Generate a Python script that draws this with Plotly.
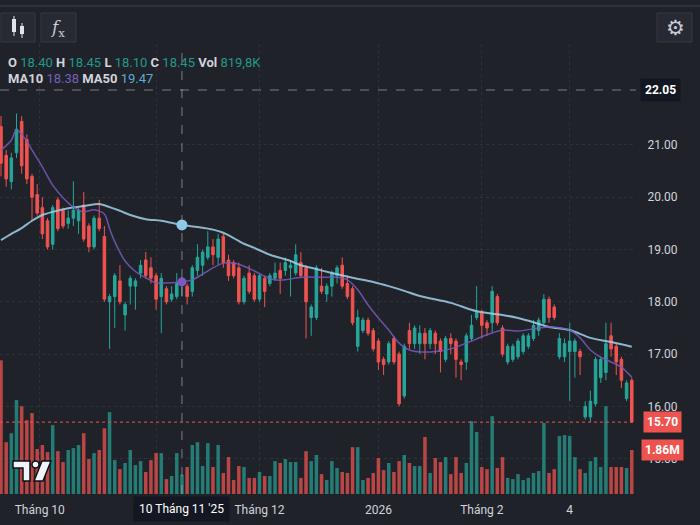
import plotly.graph_objects as go

# ---------------- data ----------------
OPEN = [21.35, 20.80, 20.30, 20.85, 21.45, 21.10, 20.40, 20.05, 19.80, 19.55,
        19.10, 19.95, 19.75, 19.50, 19.60, 19.55, 19.85, 19.45, 19.05, 19.60,
        19.25, 18.00, 18.10, 18.40, 17.75, 18.30, 18.30, 18.55, 18.80, 18.65,
        18.50, 18.10, 18.25, 18.05, 18.10, 18.40, 18.30, 18.20, 18.60, 18.70,
        18.85, 19.05, 18.85, 19.25, 18.80, 18.75, 18.65, 18.00, 18.55, 18.50,
        18.05, 18.45, 18.35, 18.45, 18.60, 18.60, 18.65, 18.55, 18.75, 18.65,
        17.70, 17.70, 18.30, 18.15, 18.30, 18.50, 18.70, 18.35, 18.25, 17.15,
        17.45, 17.65, 17.45, 17.25, 16.90, 16.85, 17.30, 17.00, 16.20, 17.45,
        17.20, 17.20, 17.40, 17.20, 17.40, 17.25, 16.90, 17.30, 17.25, 16.85,
        16.85, 17.30, 17.70, 17.80, 17.60, 17.60, 18.10, 17.50, 16.85, 16.90,
        16.95, 17.05, 17.15, 17.30, 17.45, 17.60, 18.05, 17.90, 16.95, 16.95,
        17.05, 17.05, 17.05, 15.80, 15.80, 16.05, 16.55, 16.65, 17.35, 17.15,
        16.90, 16.15, 16.50]
HIGH = [21.55, 20.90, 20.85, 21.60, 21.55, 21.20, 20.45, 20.25, 20.00, 19.60,
        19.85, 20.00, 19.80, 19.75, 20.30, 19.80, 20.10, 19.50, 19.65, 19.95,
        19.45, 18.15, 18.55, 18.70, 18.00, 18.50, 18.45, 18.80, 18.95, 18.85,
        18.55, 18.55, 18.30, 18.30, 18.55, 18.45, 18.35, 18.70, 19.10, 19.00,
        19.35, 19.20, 19.30, 19.30, 18.90, 18.80, 18.75, 18.50, 18.70, 18.55,
        18.55, 18.50, 18.55, 18.75, 18.75, 18.85, 18.80, 19.10, 18.95, 18.70,
        17.95, 18.70, 18.65, 18.35, 18.60, 18.70, 18.85, 18.50, 18.30, 17.85,
        17.70, 17.70, 17.50, 17.30, 16.95, 17.25, 17.35, 17.05, 17.20, 17.60,
        17.55, 17.55, 17.50, 17.50, 17.45, 17.30, 17.35, 17.40, 17.30, 16.90,
        17.40, 17.75, 18.30, 17.85, 17.65, 18.30, 18.15, 17.55, 17.20, 17.20,
        17.30, 17.40, 17.40, 17.65, 17.70, 18.15, 18.10, 17.95, 17.40, 17.30,
        17.60, 17.30, 17.10, 16.10, 16.30, 16.95, 16.95, 17.60, 17.60, 17.20,
        16.95, 16.50, 16.55]
LOW = [20.40, 20.20, 20.15, 20.75, 20.45, 20.25, 19.55, 19.65, 19.20, 19.00,
       19.00, 19.35, 19.40, 19.40, 19.45, 19.30, 19.15, 18.95, 19.00, 19.35,
       18.00, 17.10, 17.50, 17.95, 17.45, 17.95, 17.85, 18.45, 18.45, 18.35,
       17.85, 17.40, 17.95, 18.00, 18.05, 18.10, 17.95, 18.10, 18.50, 18.50,
       18.80, 18.70, 18.70, 18.65, 18.40, 18.45, 17.95, 17.95, 18.15, 18.00,
       18.00, 17.90, 18.30, 18.40, 18.15, 18.50, 18.10, 18.50, 18.45, 17.30,
       17.35, 17.65, 18.15, 18.00, 18.10, 18.35, 18.25, 18.05, 17.55, 17.05,
       17.40, 17.35, 17.05, 16.70, 16.60, 16.80, 16.80, 16.00, 16.15, 17.10,
       17.10, 17.00, 16.90, 17.10, 17.00, 16.65, 16.85, 17.00, 16.55, 16.50,
       16.70, 17.25, 17.65, 17.30, 17.35, 17.40, 17.55, 16.95, 16.80, 16.85,
       16.90, 17.00, 17.10, 17.25, 17.35, 17.55, 17.60, 17.65, 16.90, 16.85,
       16.10, 16.55, 16.60, 15.75, 15.70, 16.00, 16.45, 16.50, 16.95, 16.60,
       16.35, 16.10, 15.70]
CLOSE = [20.65, 20.35, 20.75, 21.30, 20.60, 20.35, 20.00, 19.70, 19.30, 19.05,
         19.80, 19.40, 19.45, 19.60, 19.75, 19.75, 19.20, 19.05, 19.60, 19.40,
         18.05, 18.10, 18.50, 18.00, 17.95, 18.45, 18.40, 18.70, 18.50, 18.45,
         18.05, 18.45, 18.00, 18.15, 18.35, 18.45, 18.10, 18.65, 18.85, 18.95,
         19.05, 18.90, 19.20, 18.75, 18.50, 18.50, 18.00, 18.45, 18.20, 18.05,
         18.50, 18.20, 18.50, 18.55, 18.45, 18.75, 18.70, 18.90, 18.50, 18.00,
         17.90, 18.65, 18.20, 18.30, 18.55, 18.65, 18.30, 18.10, 17.60, 17.70,
         17.65, 17.40, 17.10, 16.85, 16.80, 17.20, 16.85, 16.05, 17.15, 17.20,
         17.50, 17.40, 17.20, 17.45, 17.20, 17.05, 17.30, 17.20, 16.90, 16.80,
         17.35, 17.55, 17.80, 17.55, 17.50, 18.20, 17.60, 17.00, 17.15, 17.15,
         17.25, 17.35, 17.35, 17.55, 17.65, 18.05, 17.70, 17.70, 17.30, 17.20,
         17.25, 17.25, 16.95, 16.00, 16.10, 16.90, 16.90, 17.20, 17.10, 16.85,
         16.50, 16.45, 15.70]
VOLUME_M = [5.65, 2.19, 2.57, 3.97, 3.71, 3.12, 3.42, 1.90, 2.07, 1.77,
            2.91, 1.81, 1.35, 1.86, 1.94, 2.07, 2.57, 1.48, 1.73, 1.86,
            2.78, 3.46, 1.43, 1.05, 1.31, 1.86, 1.22, 1.39, 0.93, 1.43,
            1.73, 1.73, 0.63, 0.76, 1.73, 0.82, 1.14, 2.07, 2.19, 1.18,
            2.15, 1.14, 2.07, 0.89, 1.56, 0.59, 1.18, 1.14, 0.68, 0.68,
            0.93, 0.76, 0.76, 1.39, 1.31, 1.48, 1.35, 1.35, 0.68, 1.81,
            1.39, 1.65, 0.84, 0.59, 1.39, 1.10, 0.93, 0.89, 1.98, 1.98,
            0.59, 0.68, 0.89, 1.52, 1.01, 1.31, 0.93, 1.39, 1.65, 1.31,
            1.18, 1.18, 2.41, 0.89, 1.52, 1.35, 1.56, 0.84, 1.56, 0.89,
            1.31, 3.08, 2.62, 1.14, 1.05, 3.29, 1.10, 1.56, 0.68, 0.63,
            0.84, 0.59, 0.68, 0.89, 0.97, 3.00, 0.89, 1.05, 2.45, 2.49,
            2.45, 1.56, 1.05, 0.89, 1.39, 1.56, 1.14, 3.71, 1.14, 1.14,
            1.14, 1.10, 1.86]

MA50_X = [0, 2, 4, 6, 8, 10, 13, 16, 19, 21, 23, 25, 28, 31, 35, 38, 41, 43, 45,
          47, 49, 52, 54, 56, 58, 60, 64, 68, 72, 75, 78, 81, 87, 92, 97, 100,
          103, 106, 110, 114, 118, 122]
MA50_Y = [19.18, 19.30, 19.41, 19.55, 19.66, 19.72, 19.79, 19.83, 19.87, 19.81,
          19.74, 19.66, 19.58, 19.55, 19.47, 19.43, 19.38, 19.32, 19.22, 19.11,
          19.03, 18.90, 18.84, 18.78, 18.70, 18.65, 18.55, 18.46, 18.38, 18.30,
          18.21, 18.11, 17.98, 17.82, 17.75, 17.69, 17.61, 17.52, 17.46, 17.31,
          17.23, 17.14]
MA10_X = [0, 2, 3, 5, 6, 8, 10, 12, 14, 16, 18, 20, 21, 22, 24, 26, 28, 30, 32,
          35, 37, 39, 41, 43, 45, 47, 49, 51, 53, 55, 58, 62, 65, 67, 69, 71, 73,
          75, 77, 79, 83, 87, 90, 94, 97, 100, 104, 106, 110, 112, 114, 116, 118,
          120, 122]
MA10_Y = [20.90, 21.09, 21.29, 21.07, 20.90, 20.58, 20.23, 19.99, 19.81, 19.72,
          19.76, 19.68, 19.40, 19.15, 18.78, 18.58, 18.46, 18.36, 18.36, 18.38,
          18.42, 18.53, 18.65, 18.74, 18.74, 18.68, 18.59, 18.49, 18.42, 18.42,
          18.47, 18.47, 18.47, 18.42, 18.23, 17.94, 17.69, 17.46, 17.21, 17.08,
          17.04, 17.10, 17.21, 17.37, 17.46, 17.44, 17.50, 17.52, 17.46, 17.31,
          17.08, 16.94, 16.85, 16.75, 16.56]

TICK_POS = [7.5, 30, 50, 73, 93, 110]
TICK_TEXT = ["Tháng 10", " ", "Tháng 12", "2026", "Tháng 2", "4"]
PRICE_TICKS = [15, 16, 17, 18, 19, 20, 21]
CROSS_IDX = 35
CROSS_PRICE = 22.05
LAST_PRICE = 15.70
LAST_VOL = 1.86

# ---------------- style ----------------
W, H = 700, 525
BG = "#202229"
UP = "#26a69a"
DN = "#ef5350"
UP_V = "rgba(38,166,154,0.68)"
DN_V = "rgba(239,83,80,0.74)"
TXT = "#d1d4dc"
GRID = "rgba(255,255,255,0.07)"
FONT = "Roboto, 'Open Sans', sans-serif"

def P(px, py):
    return px / W, 1 - py / H

x_idx = list(range(len(CLOSE)))
vol_colors = [UP_V if c >= o else DN_V for o, c in zip(OPEN, CLOSE)]

fig = go.Figure()
fig.add_trace(go.Bar(x=x_idx, y=VOLUME_M, marker=dict(color=vol_colors, line=dict(width=0)),
                     width=0.68, yaxis="y", showlegend=False))
fig.add_trace(go.Candlestick(x=x_idx, open=OPEN, high=HIGH, low=LOW, close=CLOSE,
                             increasing=dict(line=dict(color=UP, width=1), fillcolor=UP),
                             decreasing=dict(line=dict(color=DN, width=1), fillcolor=DN),
                             whiskerwidth=0, yaxis="y2", showlegend=False))
fig.add_trace(go.Scatter(x=MA50_X, y=MA50_Y, mode="lines", yaxis="y2",
                         line=dict(color="rgba(160,208,232,0.85)", width=2, shape="spline", smoothing=0.8),
                         showlegend=False))
fig.add_trace(go.Scatter(x=MA10_X, y=MA10_Y, mode="lines", yaxis="y2",
                         line=dict(color="rgba(120,90,190,0.85)", width=1.5, shape="spline", smoothing=0.8),
                         showlegend=False))
fig.add_trace(go.Scatter(x=[CROSS_IDX], y=[19.47], mode="markers", yaxis="y2",
                         marker=dict(size=11, color="#8fc9ea"), showlegend=False))
fig.add_trace(go.Scatter(x=[CROSS_IDX], y=[18.38], mode="markers", yaxis="y2",
                         marker=dict(size=9, color="#7e57c2"), showlegend=False))

xd1 = 636 / W
yb = 1 - 494 / H
yt = 1 - 44 / H
price_top = CROSS_PRICE + (90 - 44) / 52.3
price_bot = CROSS_PRICE - (494 - 90) / 52.3

shapes = []
# top border line
shapes.append(dict(type="line", xref="paper", yref="paper", x0=0, x1=1,
                   y0=P(0, 6)[1], y1=P(0, 6)[1], line=dict(color="#3d4049", width=1)))
# toolbar buttons
for (a, b) in [(1, 35), (41, 76), (657, 692)]:
    x0, y0 = P(a, 42)
    x1, y1 = P(b, 13)
    shapes.append(dict(type="rect", xref="paper", yref="paper", x0=x0, x1=x1, y0=y0, y1=y1,
                       fillcolor="#272a32", line=dict(color="#363943", width=1)))
# candle icon
for (cx, wt, wb, bt, bb) in [(14, 16, 36, 19, 32), (22, 23, 38, 26, 34)]:
    shapes.append(dict(type="line", xref="paper", yref="paper",
                       x0=P(cx, 0)[0], x1=P(cx, 0)[0], y0=P(0, wb)[1], y1=P(0, wt)[1],
                       line=dict(color="#e0e3eb", width=1)))
    shapes.append(dict(type="rect", xref="paper", yref="paper",
                       x0=P(cx - 2, 0)[0], x1=P(cx + 2, 0)[0], y0=P(0, bb)[1], y1=P(0, bt)[1],
                       fillcolor="#e0e3eb", line=dict(width=0)))
# crosshair
shapes.append(dict(type="line", xref="x", yref="paper", x0=CROSS_IDX, x1=CROSS_IDX,
                   y0=yb, y1=P(0, 46)[1], line=dict(color="rgba(200,203,210,0.55)", width=1, dash="dash")))
shapes.append(dict(type="line", xref="paper", yref="y2", x0=0, x1=xd1, y0=CROSS_PRICE, y1=CROSS_PRICE,
                   line=dict(color="rgba(200,203,210,0.55)", width=1, dash="dash")))
# last price line
shapes.append(dict(type="line", xref="paper", yref="y2", x0=0, x1=xd1, y0=LAST_PRICE, y1=LAST_PRICE,
                   line=dict(color=DN, width=1, dash="dot")))

# TradingView logo
def path(pts):
    return "M " + " L ".join(f"{P(x, y)[0]:.5f},{P(x, y)[1]:.5f}" for x, y in pts) + " Z"
logo_style = dict(fillcolor="#f0f3fa", line=dict(color="#0f1014", width=1.5), xref="paper", yref="paper")
shapes.append(dict(type="path", path=path([(13, 461), (30, 461), (30, 481), (23, 481), (23, 468), (13, 468)]), **logo_style))
cx0, cy0 = P(32, 461)
cx1, cy1 = P(39, 468)
shapes.append(dict(type="circle", x0=cx0, x1=cx1, y0=cy1, y1=cy0, **logo_style))
shapes.append(dict(type="path", path=path([(42, 461), (51, 461), (43, 481), (34, 481)]), **logo_style))

green_txt = "#22998a"
leg1 = ("<b>O</b> <span style='color:%s'>18.40</span> <b>H</b> <span style='color:%s'>18.45</span> "
        "<b>L</b> <span style='color:%s'>18.10</span> <b>C</b> <span style='color:%s'>18.45</span> "
        "<b>Vol</b> <span style='color:%s'>819,8K</span>") % ((green_txt,) * 5)
leg2 = "<b>MA10</b> <span style='color:#7460b8'>18.38</span> <b>MA50</b> <span style='color:#5fa9d8'>19.47</span>"

ann = [
    dict(xref="paper", yref="paper", x=P(6, 0)[0], y=P(0, 62)[1], text=leg1, showarrow=False,
         xanchor="left", yanchor="middle", font=dict(size=13, color=TXT, family=FONT)),
    dict(xref="paper", yref="paper", x=P(6, 0)[0], y=P(0, 78)[1], text=leg2, showarrow=False,
         xanchor="left", yanchor="middle", font=dict(size=13, color=TXT, family=FONT)),
    dict(xref="x", yref="paper", x=CROSS_IDX, y=P(0, 509)[1], text="10 Tháng 11 '25", showarrow=False,
         xanchor="center", yanchor="middle",
         bgcolor="#131722", borderpad=5, font=dict(size=12, color="#ffffff", family=FONT)),
    dict(xref="paper", yref="y2", x=P(660, 0)[0], y=CROSS_PRICE, text="<b>22.05</b>", showarrow=False,
         xanchor="center", yanchor="middle",
         bgcolor="#131722", borderpad=4, font=dict(size=12, color="#ffffff", family=FONT)),
    dict(xref="paper", yref="y2", x=P(662, 0)[0], y=LAST_PRICE, text="<b>15.70</b>", showarrow=False,
         xanchor="center", yanchor="middle",
         bgcolor=DN, borderpad=3, font=dict(size=12, color="#ffffff", family=FONT)),
    dict(xref="paper", yref="y", x=P(662, 0)[0], y=LAST_VOL, text="<b>1.86M</b>", showarrow=False,
         xanchor="center", yanchor="middle",
         bgcolor=DN, borderpad=3, font=dict(size=12, color="#ffffff", family=FONT)),
    dict(xref="paper", yref="paper", x=P(675, 0)[0], y=P(0, 28)[1], text="⚙", showarrow=False,
         xanchor="center", yanchor="middle",
         font=dict(size=21, color="#c8cbd2", family="DejaVu Sans")),
    dict(xref="paper", yref="paper", x=P(58, 0)[0], y=P(0, 28)[1], text="<i>f</i><sub>x</sub>", showarrow=False,
         xanchor="center", yanchor="middle",
         font=dict(size=17, color="#c8cbd2", family="DejaVu Serif")),
]

fig.update_layout(
    width=W, height=H, margin=dict(l=0, r=0, t=0, b=0),
    paper_bgcolor=BG, plot_bgcolor=BG, showlegend=False, hovermode=False,
    font=dict(family=FONT, color=TXT, size=12),
    xaxis=dict(domain=[0, xd1], range=[-0.193, 122.82], tickvals=TICK_POS, ticktext=TICK_TEXT,
               showgrid=True, gridcolor=GRID, griddash="dot", zeroline=False, showline=False,
               ticks="outside", ticklen=5, tickcolor="rgba(0,0,0,0)",
               tickfont=dict(size=12, color=TXT, family=FONT), rangeslider=dict(visible=False)),
    yaxis=dict(domain=[yb, yt], range=[0, (494 - 44) / 23.66], visible=False, showgrid=False),
    yaxis2=dict(overlaying="y", side="right", anchor="x", range=[price_bot, price_top],
                tickvals=PRICE_TICKS, ticktext=[f"{v:.2f}" for v in PRICE_TICKS],
                showgrid=True, gridcolor=GRID, griddash="dot", zeroline=False, showline=False,
                ticks="outside", ticklen=8, tickcolor="rgba(0,0,0,0)",
                tickfont=dict(size=12, color=TXT, family=FONT)),
    shapes=shapes, annotations=ann,
)

fig.write_html("out.html", config={"displayModeBar": False},
               post_script="document.body.style.margin='0';document.body.style.background='%s';" % BG)
